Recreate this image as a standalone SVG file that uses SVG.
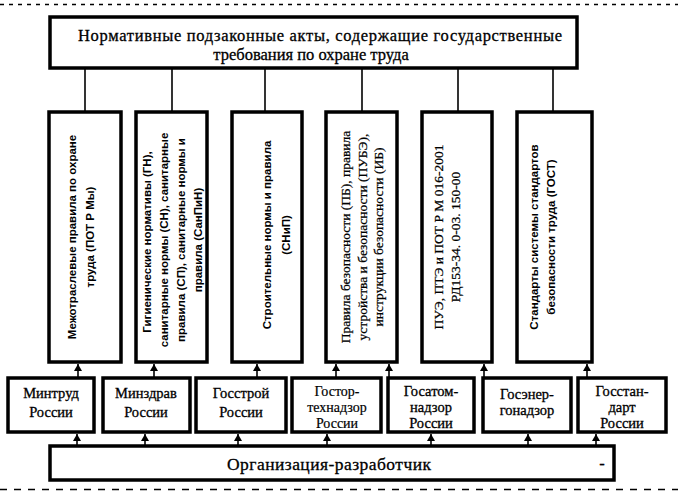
<svg xmlns="http://www.w3.org/2000/svg" width="678" height="495" viewBox="0 0 678 495">
<defs>
<style>
.box{fill:#fff;stroke:#000;stroke-width:3.5}
.ln{stroke:#000;stroke-width:1.6;fill:none}
.ttl{font-family:"Liberation Serif","Times New Roman",serif;font-size:16.5px;text-anchor:middle;fill:#000;stroke:#000;stroke-width:0.3}
.vs{font-family:"Liberation Sans",Arial,sans-serif;font-weight:bold;font-size:11.5px;text-anchor:middle;fill:#000}
.vr{font-family:"Liberation Serif","Times New Roman",serif;font-size:13.5px;text-anchor:middle;fill:#000;stroke:#000;stroke-width:0.25}
.bt{font-family:"Liberation Serif","Times New Roman",serif;font-size:14.5px;text-anchor:middle;fill:#000;stroke:#000;stroke-width:0.3}
.btn{font-family:"Liberation Serif","Times New Roman",serif;font-size:14px;text-anchor:middle;fill:#000;stroke:#000;stroke-width:0.2}
</style>
<marker id="ah" markerWidth="8" markerHeight="8" refX="7" refY="4" orient="auto" markerUnits="userSpaceOnUse">
<path d="M0,0 L7,4 L0,8 Z" fill="#000"/>
</marker>
</defs>
<rect width="678" height="495" fill="#fff"/>
<line x1="0" y1="4.5" x2="678" y2="4.5" stroke="#000" stroke-width="1.5" stroke-dasharray="4 5"/>
<line x1="0" y1="489.5" x2="678" y2="489.5" stroke="#000" stroke-width="1.5" stroke-dasharray="7 7"/>

<g id="connectors">
<line class="ln" x1="85" y1="68" x2="85" y2="112"/>
<line class="ln" x1="172" y1="68" x2="172" y2="112"/>
<line class="ln" x1="265" y1="68" x2="265" y2="112"/>
<line class="ln" x1="362" y1="68" x2="362" y2="112"/>
<line class="ln" x1="458" y1="68" x2="458" y2="112"/>
<line class="ln" x1="553" y1="68" x2="553" y2="112"/>
<line class="ln" x1="78" y1="378" x2="78" y2="364" marker-end="url(#ah)"/>
<line class="ln" x1="154" y1="378" x2="154" y2="364" marker-end="url(#ah)"/>
<line class="ln" x1="257" y1="378" x2="257" y2="364" marker-end="url(#ah)"/>
<line class="ln" x1="336" y1="378" x2="336" y2="364" marker-end="url(#ah)"/>
<line class="ln" x1="389" y1="378" x2="389" y2="364" marker-end="url(#ah)"/>
<line class="ln" x1="484" y1="378" x2="484" y2="364" marker-end="url(#ah)"/>
<line class="ln" x1="587" y1="378" x2="587" y2="364" marker-end="url(#ah)"/>
<line class="ln" x1="77" y1="446" x2="77" y2="434" marker-end="url(#ah)"/>
<line class="ln" x1="145" y1="446" x2="145" y2="434" marker-end="url(#ah)"/>
<line class="ln" x1="238" y1="446" x2="238" y2="434" marker-end="url(#ah)"/>
<line class="ln" x1="327" y1="446" x2="327" y2="434" marker-end="url(#ah)"/>
<line class="ln" x1="431" y1="446" x2="431" y2="434" marker-end="url(#ah)"/>
<line class="ln" x1="528" y1="446" x2="528" y2="434" marker-end="url(#ah)"/>
<line class="ln" x1="596" y1="446" x2="596" y2="434" marker-end="url(#ah)"/>
</g>

<g id="top">
<rect class="box" x="50" y="17" width="527" height="51"/>
<text class="ttl" x="320" y="41" textLength="484">Нормативные подзаконные акты, содержащие  государственные</text>
<text class="ttl" x="311" y="60">требования по охране труда</text>
</g>

<g id="v1">
<rect class="box" x="49" y="112" width="72" height="250"/>
<text class="vs" transform="translate(76,237) rotate(-90)">Межотраслевые правила по охране</text>
<text class="vs" transform="translate(94,237) rotate(-90)">труда (ПОТ Р Мы)</text>
</g>
<g id="v2">
<rect class="box" x="136" y="112" width="71" height="250"/>
<text class="vs" transform="translate(151,242) rotate(-90)">Гигиенические нормативы (ГН),</text>
<text class="vs" transform="translate(168,240) rotate(-90)">санитарные нормы (СН), санитарные</text>
<text class="vs" transform="translate(185,240) rotate(-90)">правила (СП), санитарные нормы и</text>
<text class="vs" transform="translate(202,240) rotate(-90)">правила (СанПиН)</text>
</g>
<g id="v3">
<rect class="box" x="232" y="112" width="70" height="250"/>
<text class="vs" transform="translate(271,235) rotate(-90)">Строительные нормы и правила</text>
<text class="vs" transform="translate(290,235) rotate(-90)">(СНиП)</text>
</g>
<g id="v4">
<rect class="box" x="326" y="112" width="71" height="250"/>
<text class="vr" transform="translate(350,237) rotate(-90)">Правила безопасности (ПБ), правила</text>
<text class="vr" transform="translate(367,237) rotate(-90)">устройства и безопасности (ПУБЭ),</text>
<text class="vr" transform="translate(383,237) rotate(-90)">инструкции безопасности (ИБ)</text>
</g>
<g id="v5">
<rect class="box" x="422" y="112" width="70" height="250"/>
<text class="vr" transform="translate(443,237) rotate(-90)">ПУЭ, ПТЭ и  ПОТ Р М 016-2001</text>
<text class="vr" transform="translate(460,237) rotate(-90)">РД153-34. 0-03. 150-00</text>
</g>
<g id="v6">
<rect class="box" x="517" y="112" width="75" height="250"/>
<text class="vs" transform="translate(538,237) rotate(-90)">Стандарты системы стандартов</text>
<text class="vs" transform="translate(555,237) rotate(-90)">безопасности труда (ГОСТ)</text>
</g>

<g id="m1">
<rect class="box" x="8" y="378" width="86" height="54"/>
<text class="bt" x="51" y="398">Минтруд</text>
<text class="bt" x="51" y="417">России</text>
</g>
<g id="m2">
<rect class="box" x="103" y="378" width="87" height="54"/>
<text class="bt" x="146" y="398">Минздрав</text>
<text class="bt" x="146" y="417">России</text>
</g>
<g id="m3">
<rect class="box" x="196" y="378" width="90" height="54"/>
<text class="bt" x="241" y="398">Госстрой</text>
<text class="bt" x="241" y="417">России</text>
</g>
<g id="m4">
<rect class="box" x="292" y="378" width="89" height="54"/>
<text class="btn" x="337" y="396">Гостор-</text>
<text class="btn" x="337" y="412">технадзор</text>
<text class="btn" x="337" y="428">России</text>
</g>
<g id="m5">
<rect class="box" x="388" y="378" width="86" height="54"/>
<text class="bt" x="431" y="396">Госатом-</text>
<text class="bt" x="431" y="412">надзор</text>
<text class="bt" x="431" y="428">России</text>
</g>
<g id="m6">
<rect class="box" x="483" y="378" width="88" height="54"/>
<text class="bt" x="527" y="399">Госэнер-</text>
<text class="bt" x="527" y="415">гонадзор</text>
</g>
<g id="m7">
<rect class="box" x="578" y="378" width="88" height="54"/>
<text class="bt" x="622" y="396">Госстан-</text>
<text class="bt" x="622" y="412">дарт</text>
<text class="bt" x="622" y="428">России</text>
</g>

<g id="org">
<rect class="box" x="50" y="446" width="564" height="34"/>
<text class="ttl" x="329" y="470" style="font-size:17.5px" textLength="204">Организация-разработчик</text>
<text class="ttl" x="602" y="469">-</text>
</g>
</svg>
